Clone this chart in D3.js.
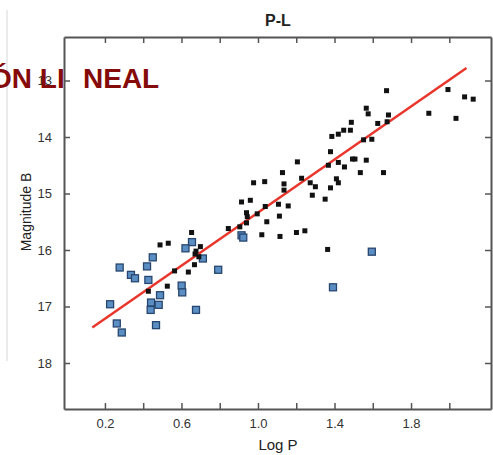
<!DOCTYPE html>
<html>
<head>
<meta charset="utf-8">
<script src="https://cdn.jsdelivr.net/npm/d3@7"></script>
<style>
  body { margin: 0; background: #fff; }
  svg { display: block; font-family: "Liberation Sans", Arial, sans-serif; }
</style>
</head>
<body>
<svg id="chart" width="493" height="455"></svg>
<script>
// black points: long period sample (log P, magnitude B)
const blackLogP = [1.672, 1.993, 2.08, 2.125, 1.893, 2.035, 1.566, 1.576, 1.682, 1.675, 1.626, 1.488, 1.483, 1.448, 1.42, 1.386,
  1.552, 1.595, 1.379, 1.206, 1.368, 1.42, 1.494, 1.507, 1.566, 1.452, 1.128, 1.228, 1.535, 1.656, 1.41, 1.42,
  0.977, 1.035, 1.136, 1.136, 1.273, 1.3, 1.379, 1.284, 1.351, 0.96, 0.914, 1.107, 1.158, 1.038, 0.94, 0.996,
  0.944, 1.112, 1.046, 0.94, 0.845, 0.905, 1.02, 1.115, 1.201, 1.245, 1.364, 0.653, 0.488, 0.531, 0.699, 0.676,
  0.671, 0.691, 0.668, 0.564, 0.636, 0.526, 0.427];
const blackMag = [13.18, 13.16, 13.29, 13.33, 13.58, 13.67, 13.49, 13.59, 13.61, 13.73, 13.76, 13.74, 13.88, 13.88, 13.95, 13.99,
  14.05, 14.04, 14.26, 14.44, 14.5, 14.45, 14.39, 14.39, 14.41, 14.53, 14.63, 14.73, 14.63, 14.63, 14.74, 14.81,
  14.81, 14.79, 14.83, 14.94, 14.81, 14.88, 14.9, 15.03, 15.1, 15.12, 15.15, 15.19, 15.22, 15.23, 15.34, 15.36,
  15.41, 15.4, 15.5, 15.52, 15.62, 15.59, 15.73, 15.76, 15.69, 15.66, 15.99, 15.69, 15.91, 15.88, 15.94, 16.02,
  16.07, 16.12, 16.26, 16.37, 16.39, 16.64, 16.73];

// blue points: short period sample
const blueLogP = [1.595, 1.392, 0.914, 0.923, 0.655, 0.621, 0.712, 0.792, 0.45, 0.277, 0.42, 0.336, 0.357,
  0.427, 0.601, 0.604, 0.488, 0.227, 0.441, 0.439, 0.481, 0.676, 0.467, 0.262, 0.288];
const blueMag = [16.03, 16.66, 15.74, 15.78, 15.86, 15.97, 16.15, 16.35, 16.13, 16.31, 16.29, 16.44, 16.5,
  16.53, 16.63, 16.75, 16.8, 16.96, 16.93, 17.06, 16.97, 17.06, 17.33, 17.3, 17.46];

// fitted P-L relation, end points
const fitLogP = [0.134, 2.09];
const fitMag = [17.37, 12.78];

const xTicks = [0.2, 0.4, 0.6, 0.8, 1.0, 1.2, 1.4, 1.6, 1.8, 2.0];
const xTickLabels = ["0.2", "", "0.6", "", "1.0", "", "1.4", "", "1.8", ""];
const yTicks = [13, 14, 15, 16, 17, 18];

const box = { left: 64, right: 491, top: 37, bottom: 409 };

const svg = d3.select("#chart");

const x = d3.scaleLinear().domain([-0.014, 2.218]).range([box.left, box.right]);
const y = d3.scaleLinear().domain([12.23, 18.814]).range([box.top, box.bottom]);

// faint slide edge on the far left
svg.append("line")
  .attr("x1", 7).attr("x2", 7).attr("y1", 10).attr("y2", 361)
  .attr("stroke", "#e4e4e4").attr("stroke-width", 1.5);

const axisColor = "#555";
const tickLen = 6;

// axes, ticks pointing inward on all four sides
const axisB = svg.append("g").attr("transform", `translate(0,${box.bottom})`)
  .call(d3.axisBottom(x).tickValues(xTicks).tickSizeInner(-tickLen).tickSizeOuter(0)
    .tickPadding(10).tickFormat((d, i) => xTickLabels[i]));
const axisT = svg.append("g").attr("transform", `translate(0,${box.top})`)
  .call(d3.axisTop(x).tickValues(xTicks).tickSizeInner(-tickLen).tickSizeOuter(0).tickFormat(""));
const axisL = svg.append("g").attr("transform", `translate(${box.left},0)`)
  .call(d3.axisLeft(y).tickValues(yTicks).tickSizeInner(-tickLen).tickSizeOuter(0)
    .tickPadding(12).tickFormat(d3.format("d")));
const axisR = svg.append("g").attr("transform", `translate(${box.right},0)`)
  .call(d3.axisRight(y).tickValues(yTicks).tickSizeInner(-tickLen).tickSizeOuter(0).tickFormat(""));

[axisB, axisT, axisL, axisR].forEach(g => {
  g.select(".domain").attr("stroke", axisColor).attr("stroke-width", 2);
  g.selectAll(".tick line").attr("stroke", axisColor).attr("stroke-width", 1.5);
  g.selectAll(".tick text").attr("fill", "#333").style("font-size", "13px");
});

// fit line
svg.append("line")
  .attr("x1", x(fitLogP[0])).attr("y1", y(fitMag[0]))
  .attr("x2", x(fitLogP[1])).attr("y2", y(fitMag[1]))
  .attr("stroke", "#e8362c").attr("stroke-width", 2.5);

const blackPts = blackLogP.map((p, i) => ({ p, m: blackMag[i] }));
const bluePts = blueLogP.map((p, i) => ({ p, m: blueMag[i] }));

svg.append("g").selectAll("rect")
  .data(bluePts)
  .enter().append("rect")
  .attr("x", d => x(d.p) - 3.5)
  .attr("y", d => y(d.m) - 3.5)
  .attr("width", 7).attr("height", 7)
  .attr("fill", "#5b8fc4")
  .attr("stroke", "#27466f")
  .attr("stroke-width", 1.3);

svg.append("g").selectAll("rect")
  .data(blackPts)
  .enter().append("rect")
  .attr("x", d => x(d.p) - 2.5)
  .attr("y", d => y(d.m) - 2.5)
  .attr("width", 5).attr("height", 5)
  .attr("fill", "#111");

// titles
svg.append("text")
  .attr("x", 278).attr("y", 26)
  .attr("text-anchor", "middle")
  .style("font-size", "16px").style("font-weight", "bold")
  .attr("fill", "#222")
  .text("P-L");

svg.append("text")
  .attr("x", 278).attr("y", 450)
  .attr("text-anchor", "middle")
  .style("font-size", "15px")
  .attr("fill", "#222")
  .text("Log P");

svg.append("text")
  .attr("transform", "translate(31,212) rotate(-90)")
  .attr("text-anchor", "middle")
  .style("font-size", "14px")
  .attr("fill", "#222")
  .text("Magnitude B");

// overlaid slide heading, cut off at the left edge
const heading = svg.append("text")
  .attr("x", -10).attr("y", 88)
  .style("font-size", "28px").style("font-weight", "bold")
  .attr("fill", "#850a0a");
heading.append("tspan").text("ÓN LI");
heading.append("tspan").attr("x", 83).text("NEAL");
</script>
</body>
</html>
